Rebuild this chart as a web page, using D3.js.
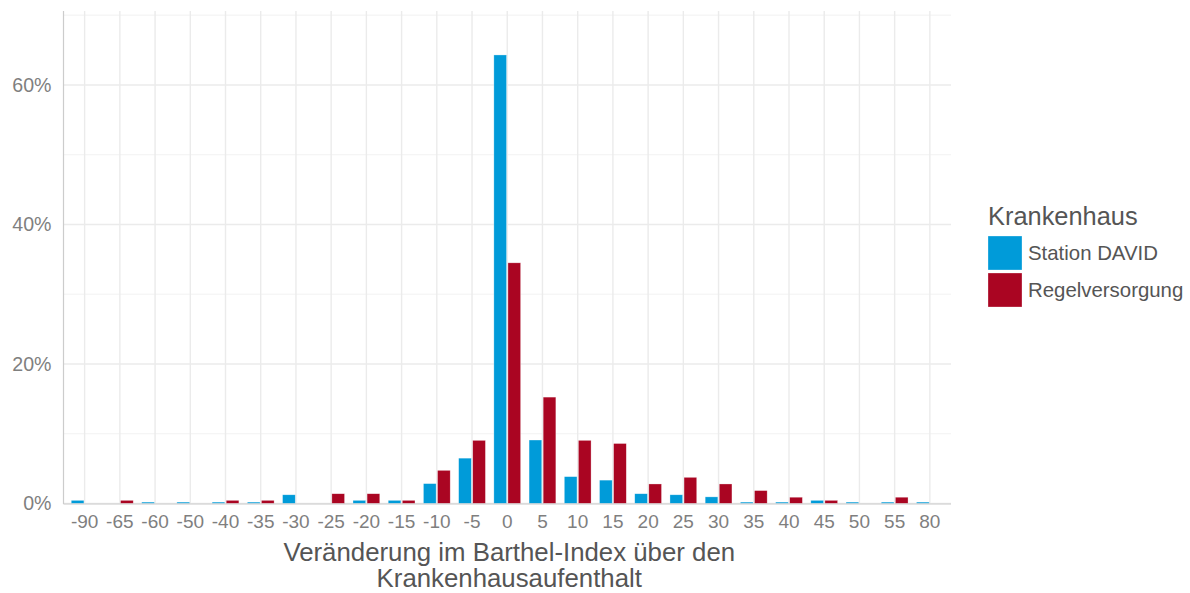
<!DOCTYPE html>
<html>
<head>
<meta charset="utf-8">
<script src="https://cdn.jsdelivr.net/npm/d3@7"></script>
<style>
  body { margin: 0; background: #fff; }
  text { font-family: "Liberation Sans", Arial, sans-serif; }
</style>
</head>
<body>
<svg width="1190" height="593"></svg>
<script>
// change in Barthel index (categories) and share of patients per ward
var categories = ["-90", "-65", "-60", "-50", "-40", "-35", "-30", "-25", "-20", "-15", "-10", "-5",
  "0", "5", "10", "15", "20", "25", "30", "35", "40", "45", "50", "55", "80"];
var davidValues = [0.45, 0, 0.2, 0.2, 0.2, 0.2, 1.25, 0, 0.45, 0.45, 2.85, 6.5,
  64.3, 9.1, 3.85, 3.35, 1.4, 1.25, 0.95, 0.2, 0.2, 0.45, 0.2, 0.2, 0.2];
var regelValues = [0, 0.45, 0, 0, 0.45, 0.45, 0, 1.4, 1.4, 0.45, 4.75, 9.05,
  34.5, 15.25, 9.05, 8.6, 2.8, 3.75, 2.8, 1.85, 0.9, 0.45, 0, 0.9, 0];
var seriesNames = ["Station DAVID", "Regelversorgung"];
var yTicks = [0, 20, 40, 60];

var colors = { "Station DAVID": "#009bd9", "Regelversorgung": "#aa0522" };

var svg = d3.select("svg");
var plotLeft = 63.5, plotRight = 951, plotTop = 11, plotBottom = 503.5;

var x = d3.scaleBand().domain(categories).range([plotLeft, plotRight])
  .paddingInner(0).paddingOuter(0.1);
var step = x.step();
var xSub = d3.scaleBand().domain(seriesNames).range([-0.4 * step, 0.4 * step])
  .paddingInner(0.1).paddingOuter(0.05);
var y = d3.scaleLinear().domain([0, 70.6]).range([plotBottom, plotTop]);

// grid: minor horizontal lines
var g = svg.append("g");
g.selectAll(".minor")
  .data([10, 30, 50, 70])
  .enter().append("line")
  .attr("x1", plotLeft).attr("x2", plotRight)
  .attr("y1", d => y(d)).attr("y2", d => y(d))
  .attr("stroke", "#f0f0f0").attr("stroke-width", 0.9);

// major horizontal grid
g.selectAll(".major")
  .data(yTicks)
  .enter().append("line")
  .attr("x1", plotLeft).attr("x2", plotRight)
  .attr("y1", d => y(d)).attr("y2", d => y(d))
  .attr("stroke", "#ebebeb").attr("stroke-width", 1.4);

// vertical grid at each category
g.selectAll(".vgrid")
  .data(categories)
  .enter().append("line")
  .attr("x1", d => x(d) + step / 2).attr("x2", d => x(d) + step / 2)
  .attr("y1", plotTop).attr("y2", plotBottom)
  .attr("stroke", "#ebebeb").attr("stroke-width", 1.4);

// bars
var rows = [];
categories.forEach(function (c, i) {
  rows.push({ cat: c, s: "Station DAVID", v: davidValues[i] });
  rows.push({ cat: c, s: "Regelversorgung", v: regelValues[i] });
});

svg.append("g").selectAll("rect")
  .data(rows.filter(d => d.v > 0))
  .enter().append("rect")
  .attr("x", d => x(d.cat) + step / 2 + xSub(d.s))
  .attr("width", xSub.bandwidth())
  .attr("y", d => y(d.v))
  .attr("height", d => y(0) - y(d.v))
  .attr("fill", d => colors[d.s])
  .attr("stroke", "#ffffff").attr("stroke-opacity", 0.5).attr("stroke-width", 0.6);

// axis lines
svg.append("line")
  .attr("x1", plotLeft).attr("x2", plotLeft).attr("y1", plotTop).attr("y2", plotBottom + 0.5)
  .attr("stroke", "#cccccc").attr("stroke-width", 1.2);
svg.append("line")
  .attr("x1", plotLeft).attr("x2", plotRight).attr("y1", plotBottom + 0.5).attr("y2", plotBottom + 0.5)
  .attr("stroke", "#cccccc").attr("stroke-width", 1.2);

// y axis labels
var yAxis = svg.append("g")
  .attr("transform", "translate(" + plotLeft + ",0)")
  .call(d3.axisLeft(y).tickValues(yTicks).tickSize(0).tickPadding(12)
    .tickFormat(d => d + "%"));
yAxis.select(".domain").remove();
yAxis.selectAll("text")
  .attr("font-size", "19.6px").attr("fill", "#7f7f7f")
  .attr("font-family", "Liberation Sans, Arial, sans-serif");

// x axis labels
var xAxis = svg.append("g")
  .attr("transform", "translate(0," + plotBottom + ")")
  .call(d3.axisBottom(x).tickSize(0).tickPadding(11));
xAxis.select(".domain").remove();
xAxis.selectAll("text")
  .attr("font-size", "19px").attr("fill", "#7f7f7f")
  .attr("font-family", "Liberation Sans, Arial, sans-serif");

// x axis title
var title = svg.append("text")
  .attr("x", (plotLeft + plotRight) / 2)
  .attr("text-anchor", "middle")
  .attr("font-size", "25.8px")
  .attr("fill", "#555555");
title.append("tspan").attr("x", (plotLeft + plotRight) / 2 + 2).attr("y", 561)
  .text("Veränderung im Barthel-Index über den");
title.append("tspan").attr("x", (plotLeft + plotRight) / 2 + 2).attr("y", 587)
  .text("Krankenhausaufenthalt");

// legend
var legend = svg.append("g").attr("transform", "translate(988,0)");
legend.append("text")
  .attr("x", 0).attr("y", 225)
  .attr("font-size", "25.4px").attr("fill", "#555555")
  .text("Krankenhaus");
seriesNames.forEach(function (s, i) {
  legend.append("rect")
    .attr("x", 0).attr("y", 236 + i * 37)
    .attr("width", 34).attr("height", 34)
    .attr("fill", colors[s])
    .attr("stroke", "#ffffff").attr("stroke-opacity", 0.5).attr("stroke-width", 0.6);
  legend.append("text")
    .attr("x", 40).attr("y", 253 + i * 37)
    .attr("dy", "0.35em")
    .attr("font-size", "20.4px").attr("fill", "#555555")
    .text(s);
});
</script>
</body>
</html>
